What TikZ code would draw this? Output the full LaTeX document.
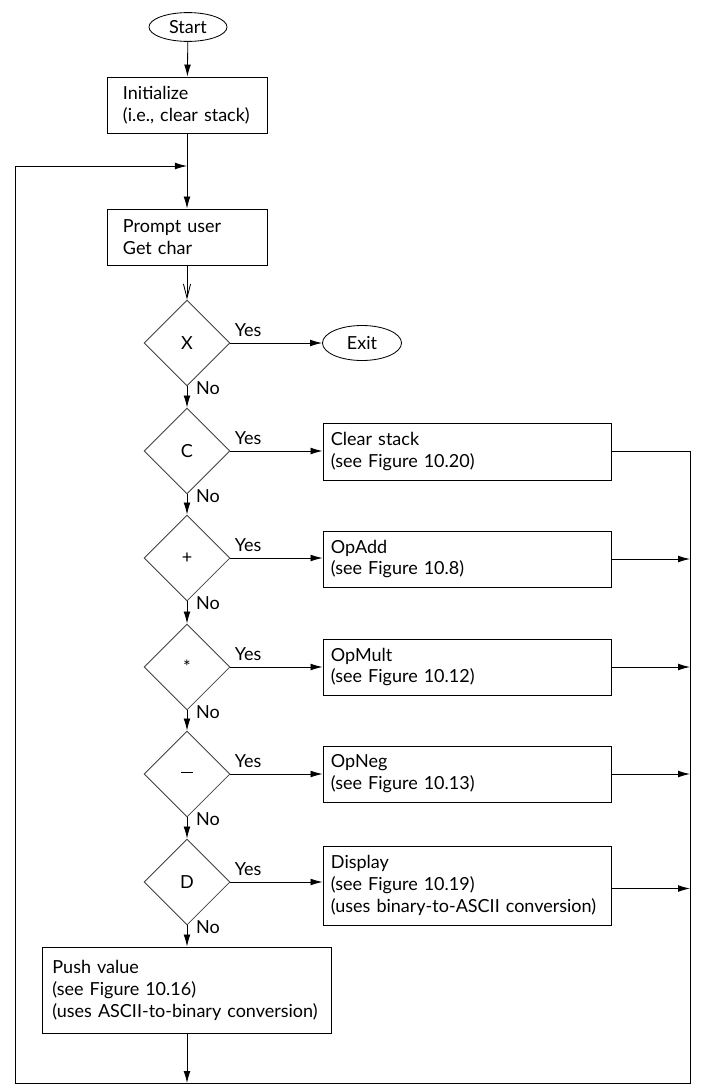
\documentclass[tikz,border=0pt]{standalone}
\usepackage{fontspec}
\setmainfont{Lato}
\usetikzlibrary{shapes.geometric,arrows.meta}

\begin{document}
\begin{tikzpicture}[x=0.025cm, y=-0.025cm, line width=0.6pt,
  every node/.style={font=\fontsize{12.8}{15.6}\selectfont},
  term/.style={draw, ellipse, inner sep=0pt, minimum width=1.95cm, minimum height=0.72cm},
  proc/.style={draw, rectangle, align=left, inner xsep=0.4cm, text width=3.2cm, minimum height=1.4cm},
  wide/.style={proc, inner xsep=0.2cm, text width=6.8cm},
  test/.style={draw=black!75, diamond, aspect=1, inner sep=0pt, minimum width=2.15cm, minimum height=2.15cm},
  arr/.style={-{Latex[length=0.3cm,width=0.17cm]}},
  yes/.style={above right, inner sep=0.1cm, yshift=0.05cm},
  no/.style={anchor=west, inner sep=0.1cm, xshift=0.12cm, yshift=-0.05cm}]
  \useasboundingbox (0,0) rectangle (702,1092);

  % Start and setup
  \node[term] (start) at (188,27) {Start};
  \node[proc] (init) at (187,105) {Initialize\\\mbox{(i.e., clear stack)}};
  \node[proc] (prompt) at (187,237) {Prompt user\\Get char};

  % Decisions and actions
  \node[test] (tx) at (187,343) {X};
  \node[term, minimum width=1.975cm, minimum height=0.875cm] (exit) at (362,343) {Exit};
  \node[test] (tc) at (187,451) {C};
  \node[wide, minimum height=1.425cm] (clear) at (467,451.5) {Clear stack\\(see Figure 10.20)};
  \node[test] (tadd) at (187,558) {+};
  \node[wide] (opadd) at (467,559) {OpAdd\\(see Figure 10.8)};
  \node[test] (tmul) at (187,667) {*};
  \node[wide] (opmult) at (467,667) {OpMult\\(see Figure 10.12)};
  \node[test] (tneg) at (187,774) {\rule[0.22em]{0.3cm}{0.6pt}};
  \node[wide] (opneg) at (467,774) {OpNeg\\(see Figure 10.13)};
  \node[test] (td) at (187,882) {D};
  \node[wide, minimum height=1.975cm] (display) at (467,885.5) {Display\\(see Figure 10.19)\\\mbox{(uses binary-to-ASCII conversion)}};
  \node[proc, inner xsep=0.25cm, text width=6.725cm, minimum height=2.15cm] (push) at (187,990) {Push value\\(see Figure 10.16)\\\mbox{(uses ASCII-to-binary conversion)}};

  % Loop points
  \coordinate (merge) at (187,166);
  \coordinate (busR) at (690,1083);
  \coordinate (busL) at (15,1083);

  % Main line
  \draw[arr] (start) -- (init);
  \draw[arr] (init) -- (prompt);
  \draw[-{Straight Barb[length=0.35cm,width=0.18cm]}] (prompt) -- (tx);

  % Yes branches
  \draw[arr] (tx.east) -- node[yes, pos=0] {Yes} (tx.east -| exit.west);
  \draw[arr] (tc.east) -- node[yes, pos=0] {Yes} (tc.east -| clear.west);
  \draw[arr] (tadd.east) -- node[yes, pos=0] {Yes} (tadd.east -| opadd.west);
  \draw[arr] (tmul.east) -- node[yes, pos=0] {Yes} (tmul.east -| opmult.west);
  \draw[arr] (tneg.east) -- node[yes, pos=0] {Yes} (tneg.east -| opneg.west);
  \draw[arr] (td.east) -- node[yes, pos=0] {Yes} (td.east -| display.west);

  % No branches
  \draw[arr] (tx) -- node[no, pos=0] {No} (tc);
  \draw[arr] (tc) -- node[no, pos=0] {No} (tadd);
  \draw[arr] (tadd) -- node[no, pos=0] {No} (tmul);
  \draw[arr] (tmul) -- node[no, pos=0] {No} (tneg);
  \draw[arr] (tneg) -- node[no, pos=0] {No} (td);
  \draw[arr] (td) -- node[no, pos=0] {No} (td |- push.north);

  % Return to prompt
  \draw[arr] (clear.east) -| (busR) -- (busL) |- (merge);
  \draw[arr] (opadd.east) -- (opadd.east -| busR);
  \draw[arr] (opmult.east) -- (opmult.east -| busR);
  \draw[arr] (opneg.east) -- (opneg.east -| busR);
  \draw[arr] ([yshift=-0.075cm]display.east) -- ([yshift=-0.075cm]display.east -| busR);
  \draw[arr] (push) -- (push |- busR);
\end{tikzpicture}
\end{document}
